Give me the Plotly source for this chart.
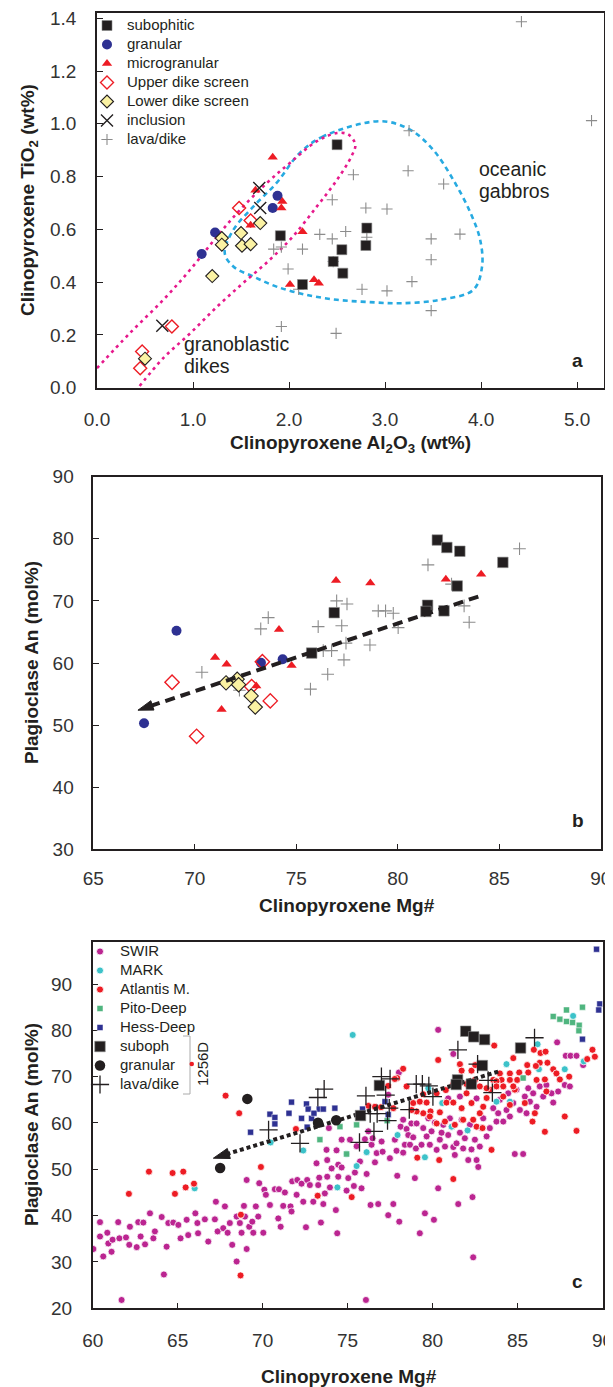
import plotly.graph_objects as go

# ================= Panel a : Cpx Al2O3 vs TiO2 =================
a_sub_x = [2.50, 1.91, 2.14, 2.55, 2.46, 2.56, 2.81, 2.80]
a_sub_y = [0.921, 0.576, 0.391, 0.523, 0.478, 0.434, 0.605, 0.539]
a_gran_x = [1.88, 1.83, 1.23, 1.09]
a_gran_y = [0.727, 0.681, 0.588, 0.507]
a_micro_x = [1.83, 1.65, 1.93, 1.92, 1.60, 2.14, 2.01, 2.26, 2.31]
a_micro_y = [0.873, 0.748, 0.706, 0.681, 0.616, 0.591, 0.391, 0.409, 0.396]
a_upper_x = [1.48, 1.60, 0.78, 0.47, 0.45]
a_upper_y = [0.681, 0.634, 0.232, 0.137, 0.074]
a_lower_x = [1.70, 1.30, 1.30, 1.50, 1.51, 1.60, 1.20, 0.50]
a_lower_y = [0.624, 0.567, 0.542, 0.586, 0.538, 0.544, 0.423, 0.110]
a_incl_x = [1.69, 1.70, 0.68]
a_incl_y = [0.757, 0.681, 0.235]
a_lava_x = [4.42, 5.15, 3.25, 2.67, 3.24, 3.61, 2.45, 2.80, 3.02, 3.78, 3.48, 3.48, 3.28, 2.76,
            3.02, 3.48, 2.32, 2.45, 2.59, 2.14, 1.92, 1.84, 1.99, 2.10, 2.46, 2.81, 1.92, 2.49]
a_lava_y = [1.387, 1.012, 0.974, 0.807, 0.822, 0.772, 0.712, 0.681, 0.677, 0.582, 0.564, 0.485, 0.402, 0.373,
            0.367, 0.292, 0.581, 0.564, 0.592, 0.525, 0.533, 0.525, 0.450, 0.373, 0.478, 0.570, 0.232, 0.206]
# field outlines
gabbro_x = [2.95, 2.36, 2.11, 1.87, 1.63, 1.42, 1.33, 1.42, 1.63, 1.87, 2.18, 2.50, 2.81, 3.16, 3.57,
            3.92, 4.01, 3.99, 3.89, 3.71, 3.50, 3.26, 2.95]
gabbro_y = [1.010, 0.953, 0.889, 0.776, 0.687, 0.598, 0.511, 0.459, 0.421, 0.383, 0.352, 0.333, 0.325,
            0.320, 0.333, 0.371, 0.459, 0.561, 0.662, 0.788, 0.902, 0.978, 1.010]
dike_x = [0.00, 0.34, 0.69, 0.97, 1.25, 1.49, 1.77, 2.01, 2.29, 2.50, 2.62, 2.69, 2.65, 2.50, 2.29,
          2.04, 1.80, 1.52, 1.25, 0.97, 0.69, 0.43]
dike_y = [0.074, 0.206, 0.333, 0.447, 0.573, 0.674, 0.776, 0.852, 0.934, 0.965, 0.959, 0.921, 0.877,
          0.788, 0.687, 0.573, 0.485, 0.396, 0.307, 0.206, 0.112, 0.000]
a_xticks = [0, 1, 2, 3, 4, 5]
a_yticks = [0.0, 0.2, 0.4, 0.6, 0.8, 1.0, 1.2, 1.4]

# ================= Panel b : Cpx Mg# vs Plag An =================
b_sub_x = [75.76, 76.87, 81.95, 82.42, 83.06, 85.18, 82.93, 81.47, 81.39, 82.28]
b_sub_y = [61.6, 68.1, 79.8, 78.6, 78.0, 76.2, 72.4, 69.3, 68.3, 68.4]
b_gran_x = [69.1, 67.5, 73.26, 74.33]
b_gran_y = [65.2, 50.3, 60.05, 60.6]
b_micro_x = [71.0, 71.57, 71.32, 74.15, 73.03, 74.77, 76.96, 78.65, 82.37, 84.11]
b_micro_y = [60.9, 59.8, 52.5, 65.4, 56.3, 59.6, 73.3, 72.9, 73.5, 74.3]
b_upper_x = [68.88, 70.09, 73.33, 72.8, 73.72]
b_upper_y = [56.9, 48.2, 60.2, 56.2, 53.9]
b_lower_x = [71.54, 72.09, 72.16, 72.78, 72.98]
b_lower_y = [56.8, 57.4, 56.5, 54.7, 52.9]
b_lava_x = [70.35, 72.2, 73.25, 73.62, 75.7, 76.08, 76.33, 76.74, 76.55, 76.99, 77.5, 77.24, 77.35,
            77.45, 78.63, 79.04, 79.4, 79.78, 80.02, 81.49, 82.65, 83.27, 83.52, 86.0]
b_lava_y = [58.5, 55.6, 65.5, 67.3, 55.8, 65.85, 62.0, 62.0, 58.2, 70.0, 69.5, 66.0, 60.5,
            63.2, 62.9, 68.4, 68.4, 68.0, 65.7, 75.8, 72.7, 69.2, 66.55, 78.4]
trend_b_x = [83.97, 67.2]
trend_b_y = [70.7, 52.4]
b_xticks = [65, 70, 75, 80, 85, 90]
b_yticks = [30, 40, 50, 60, 70, 80, 90]

# ================= Panel c : compilation =================
swir = [
    (60.04, 32.8), (60.43, 38.6), (60.43, 35.5), (60.62, 31.2), (60.86, 36.3), (60.92, 34.0), (61.11, 32.2),
    (61.17, 34.8), (61.5, 38.6), (61.57, 35.1), (61.7, 21.8), (61.96, 35.3), (62.15, 33.7), (62.19, 37.6),
    (62.59, 33.2), (62.68, 38.6), (62.82, 35.5), (62.98, 38.5), (63.08, 33.8), (63.37, 40.5), (63.57, 35.1),
    (63.66, 36.6), (64.06, 39.7), (64.19, 27.3), (64.35, 33.3), (64.45, 38.4), (64.74, 38.5), (65.04, 38.0),
    (65.17, 35.1), (65.53, 39.1), (65.62, 35.8), (66.04, 40.5), (66.16, 38.4), (66.2, 36.2), (66.6, 39.2),
    (66.8, 34.4), (67.19, 39.2), (67.25, 43.0), (67.35, 36.6), (67.68, 37.3), (67.78, 42.0), (67.94, 36.3),
    (68.07, 38.4), (68.21, 33.7), (68.47, 30.1), (68.47, 39.8), (68.66, 38.4), (68.76, 36.3), (68.9, 42.1),
    (68.96, 39.8), (69.06, 47.7), (69.06, 32.8), (69.21, 37.6), (69.39, 38.7), (69.45, 36.3), (69.6, 42.0),
    (69.74, 39.8), (69.8, 47.0), (70.04, 36.3), (70.1, 45.6), (70.19, 44.5), (70.43, 42.3), (70.72, 45.7),
    (70.92, 39.4), (70.96, 45.7), (71.06, 37.6), (71.21, 42.1), (71.31, 45.0), (71.64, 42.0), (71.7, 40.9),
    (71.74, 47.4), (72.0, 44.5), (72.04, 47.7), (72.29, 46.9), (72.39, 43.0), (72.55, 37.5), (72.62, 47.7),
    (72.78, 46.6), (72.98, 43.0), (73.17, 51.3), (73.27, 46.6), (73.33, 48.2), (73.43, 38.5), (73.57, 42.5),
    (73.66, 44.8), (73.76, 54.2), (73.8, 48.4), (73.8, 52.0), (73.9, 58.9), (73.96, 46.1), (74.06, 50.2),
    (74.31, 41.2), (74.35, 54.1), (74.39, 36.2), (74.45, 51.0), (74.45, 48.4),
    (74.65, 56.4), (74.65, 50.4), (74.94, 45.4), (75.04, 48.1), (75.14, 56.4), (75.37, 46.4), (75.43, 49.3),
    (75.53, 55.0), (75.73, 51.7), (75.82, 45.9), (76.02, 56.5), (76.08, 21.8), (76.12, 49.0), (76.22, 58.2),
    (76.35, 42.3), (76.41, 55.3), (76.47, 56.7), (76.61, 51.5), (76.71, 53.5), (76.8, 42.5), (77.0, 56.0),
    (77.06, 53.8), (77.39, 40.1), (77.49, 52.4), (77.69, 42.5), (77.78, 56.4), (77.88, 54.0), (77.92, 48.6),
    (78.04, 38.7), (78.12, 59.2), (78.27, 60.7), (78.27, 53.6), (78.37, 55.3), (78.47, 58.7), (78.57, 57.4),
    (78.67, 55.3), (78.75, 59.9), (78.86, 56.9), (78.96, 48.1), (79.02, 54.5), (79.06, 59.9), (79.25, 36.2),
    (79.35, 55.3), (79.45, 58.9), (79.55, 40.5), (79.65, 57.1), (79.75, 61.0), (79.84, 55.3), (79.94, 58.2),
    (80.08, 39.1), (80.14, 60.1), (80.24, 54.2), (80.33, 45.9), (80.43, 56.4), (80.53, 57.9), (80.63, 59.6),
    (80.73, 54.9), (80.92, 57.4), (81.02, 61.0), (81.12, 59.2), (81.22, 54.8), (81.31, 53.1), (81.41, 55.6),
    (81.51, 42.5), (81.61, 57.9), (81.71, 60.7), (81.8, 54.5), (81.9, 56.7), (82.1, 52.0), (82.2, 59.6),
    (82.29, 54.3), (82.35, 44.0), (82.39, 31.0), (82.49, 56.4), (82.59, 52.0), (82.69, 50.5), (82.78, 54.9),
    (82.88, 58.9), (82.98, 61.0), (83.18, 57.1), (83.37, 58.9), (83.57, 63.2), (83.76, 60.3), (83.86, 62.1),
    (83.96, 65.0), (84.16, 60.3), (84.35, 62.8), (84.45, 66.4), (84.55, 61.4), (84.75, 64.3), (84.84, 53.3),
    (84.94, 67.2), (85.14, 62.8), (85.33, 53.3), (85.43, 65.7), (85.53, 62.1), (85.63, 67.5), (85.73, 64.6),
    (85.92, 66.4), (86.12, 63.5), (86.31, 67.9), (86.51, 65.7), (86.7, 68.2), (87.0, 66.4), (87.1, 64.4),
    (87.39, 66.8), (87.78, 68.2), (88.08, 67.9),
    (78.02, 70.9), (80.33, 80.1), (81.22, 74.9), (87.33, 77.4), (87.84, 74.5), (88.12, 74.5), (88.47, 74.5),
    (88.86, 72.5), (77.39, 66.1), (80.92, 65.3), (81.61, 65.7), (82.59, 65.3),
]
c_swir_x = [p[0] for p in swir]
c_swir_y = [p[1] for p in swir]

c_mark_x = [70.47, 72.39, 66.0, 74.4, 74.94, 75.53, 76.12, 77.94, 79.55, 79.75, 80.57, 81.12, 82.06,
            83.76, 84.55, 87.78, 75.3, 88.27, 86.18, 88.9, 84.35, 86.26]
c_mark_y = [55.8, 54.06, 45.9, 46.1, 53.3, 50.7, 53.7, 57.4, 52.6, 67.5, 64.3, 59.2, 58.4,
            64.6, 64.6, 71.6, 79.0, 83.1, 77.0, 73.3, 72.7, 71.6]

atlantis = [
    (67.82, 65.9), (68.62, 62.1), (71.96, 58.7), (69.9, 50.5), (63.31, 49.5), (64.7, 49.2), (65.33, 49.5),
    (65.47, 46.1), (65.96, 46.9), (62.13, 44.7), (64.84, 44.7), (68.72, 40.2), (68.7, 27.1), (73.23, 44.3),
    (83.63, 76.7), (80.33, 73.6), (81.61, 72.7), (81.71, 71.3), (82.29, 71.3), (82.51, 72.5), (84.75, 74.0),
    (85.96, 75.8), (86.35, 75.1), (86.65, 75.4), (86.31, 73.0), (86.76, 73.0), (85.57, 72.5), (86.08, 72.3),
    (85.1, 70.9), (85.63, 70.9), (84.55, 70.7), (84.98, 69.3), (83.96, 70.7), (84.06, 69.3), (84.55, 69.3),
    (83.57, 69.3), (82.49, 69.3), (78.27, 71.7), (77.92, 69.7), (87.1, 71.6), (87.29, 70.7), (88.04, 70.0),
    (87.49, 69.4), (89.1, 73.8), (89.41, 75.8), (89.55, 74.3), (86.12, 69.3), (86.61, 69.4),
    (78.47, 67.9), (78.86, 64.3), (79.25, 64.6), (79.65, 64.4), (79.88, 62.5), (79.45, 62.1), (79.06, 62.5),
    (78.77, 62.8), (80.43, 62.3), (80.82, 64.4), (81.22, 64.4), (81.71, 63.2), (82.0, 66.4), (82.29, 64.3),
    (82.39, 60.7), (82.78, 62.1), (82.98, 63.5), (83.18, 65.4), (83.37, 67.2), (83.76, 69.0), (84.16, 65.7),
    (84.55, 63.9), (84.84, 67.2), (85.43, 64.3), (86.02, 62.1), (86.7, 66.8), (87.78, 61.4), (88.47, 58.3),
    (86.61, 58.1), (85.88, 60.3), (83.47, 54.2), (81.22, 47.9), (80.39, 52.0), (79.1, 52.5), (75.24, 44.0),
    (73.24, 44.3), (76.61, 63.5), (76.96, 63.4), (77.69, 63.2), (79.84, 61.4), (80.24, 59.9), (80.73, 60.3),
    (81.31, 59.6), (81.8, 60.7), (82.59, 59.2), (82.94, 58.9), (77.78, 69.5), (81.22, 68.4), (80.78, 67.1),
    (80.24, 66.4), (79.45, 66.2), (77.39, 68.0), (76.22, 63.7), (83.18, 67.5), (82.78, 67.9), (82.0, 68.4),
    (83.76, 67.9), (84.16, 67.9), (84.75, 67.9),
]
c_atl_x = [p[0] for p in atlantis]
c_atl_y = [p[1] for p in atlantis]

c_pito_x = [87.1, 87.49, 87.88, 87.88, 88.24, 88.63, 88.61, 88.82, 85.33, 73.37, 74.55, 75.53, 74.94, 77.33]
c_pito_y = [83.0, 82.4, 84.4, 81.9, 81.7, 81.1, 79.9, 85.0, 69.7, 56.4, 59.2, 59.6, 53.3, 60.5]

c_hess_x = [69.29, 70.43, 70.72, 70.72, 71.7, 71.55, 72.29, 72.58, 72.68, 72.88, 73.33, 73.57, 74.25,
            72.62, 73.02, 75.88, 77.2, 77.39, 89.65, 89.84, 89.78, 88.82]
c_hess_y = [58.0, 61.9, 61.2, 59.8, 64.5, 62.1, 61.0, 64.1, 63.0, 61.0, 63.0, 63.0, 63.2,
            59.1, 62.1, 63.0, 64.6, 61.8, 97.5, 85.7, 84.4, 78.1]
trend_c_x = [83.86, 67.1]
trend_c_y = [71.1, 52.4]
c_xticks = [60, 65, 70, 75, 80, 85, 90]
c_yticks = [20, 30, 40, 50, 60, 70, 80, 90]

# ================= figure =================
W, H = 613, 1387
OFF = 8  # page body margin the figure sits inside
FONT = "Arial, 'Liberation Sans', Helvetica, sans-serif"
INK = "#231f20"


def py(p):
    return 1 - (p - OFF) / H


def px(p):
    return (p - OFF) / W


fig = go.Figure()


def L(t, s=15):
    return f"<span style='font-size:{s}px'>{t}</span>"


# --- panel a traces
fig.add_trace(go.Scatter(x=gabbro_x, y=gabbro_y, mode="lines", line=dict(color="#27aae1", width=2.6, dash="5px,4px", shape="spline", smoothing=1.0),
                         showlegend=False, hoverinfo="skip", xaxis="x", yaxis="y"))
fig.add_trace(go.Scatter(x=dike_x, y=dike_y, mode="lines", line=dict(color="#e6198c", width=2.6, dash="3px,4px", shape="spline", smoothing=1.0),
                         showlegend=False, hoverinfo="skip", xaxis="x", yaxis="y"))
fig.add_trace(go.Scatter(x=a_lava_x, y=a_lava_y, mode="markers", name=L("lava/dike"), legendrank=7,
                         marker=dict(symbol="cross-thin", size=8, line=dict(color="#8c8c8c", width=1.1)),
                         xaxis="x", yaxis="y", legend="legend"))
fig.add_trace(go.Scatter(x=a_sub_x, y=a_sub_y, mode="markers", name=L("subophitic"), legendrank=1,
                         marker=dict(symbol="square", size=10, color=INK, line=dict(color="#888", width=0.6)),
                         xaxis="x", yaxis="y", legend="legend"))
fig.add_trace(go.Scatter(x=a_gran_x, y=a_gran_y, mode="markers", name=L("granular"), legendrank=2,
                         marker=dict(symbol="circle", size=10, color="#2e3192", line=dict(width=0)),
                         xaxis="x", yaxis="y", legend="legend"))
fig.add_trace(go.Scatter(x=a_micro_x, y=a_micro_y, mode="markers", name=L("microgranular"), legendrank=3,
                         marker=dict(symbol="triangle-up", size=9, color="#ed1c24", line=dict(width=0)),
                         xaxis="x", yaxis="y", legend="legend"))
fig.add_trace(go.Scatter(x=a_upper_x, y=a_upper_y, mode="markers", name=L("Upper dike screen"), legendrank=4,
                         marker=dict(symbol="diamond-open", size=10, color="#ed1c24", line=dict(width=1.4)),
                         xaxis="x", yaxis="y", legend="legend"))
fig.add_trace(go.Scatter(x=a_lower_x, y=a_lower_y, mode="markers", name=L("Lower dike screen"), legendrank=5,
                         marker=dict(symbol="diamond", size=10, color="#fbf2a3", line=dict(color=INK, width=1.1)),
                         xaxis="x", yaxis="y", legend="legend"))
fig.add_trace(go.Scatter(x=a_incl_x, y=a_incl_y, mode="markers", name=L("inclusion"), legendrank=6,
                         marker=dict(symbol="x-thin", size=12, line=dict(color=INK, width=1.4)),
                         xaxis="x", yaxis="y", legend="legend"))

# --- panel b traces
fig.add_trace(go.Scatter(x=b_lava_x, y=b_lava_y, mode="markers", showlegend=False,
                         marker=dict(symbol="cross-thin", size=9, line=dict(color="#8c8c8c", width=1.1)), xaxis="x2", yaxis="y2"))
fig.add_trace(go.Scatter(x=b_sub_x, y=b_sub_y, mode="markers", showlegend=False,
                         marker=dict(symbol="square", size=10.5, color=INK, line=dict(color="#888", width=0.6)), xaxis="x2", yaxis="y2"))
fig.add_trace(go.Scatter(x=b_gran_x, y=b_gran_y, mode="markers", showlegend=False,
                         marker=dict(symbol="circle", size=10, color="#2e3192"), xaxis="x2", yaxis="y2"))
fig.add_trace(go.Scatter(x=b_micro_x, y=b_micro_y, mode="markers", showlegend=False,
                         marker=dict(symbol="triangle-up", size=9, color="#ed1c24"), xaxis="x2", yaxis="y2"))
fig.add_trace(go.Scatter(x=b_upper_x, y=b_upper_y, mode="markers", showlegend=False,
                         marker=dict(symbol="diamond-open", size=11, color="#ed1c24", line=dict(width=1.4)), xaxis="x2", yaxis="y2"))
fig.add_trace(go.Scatter(x=b_lower_x, y=b_lower_y, mode="markers", showlegend=False,
                         marker=dict(symbol="diamond", size=11, color="#fbf2a3", line=dict(color=INK, width=1.1)), xaxis="x2", yaxis="y2"))
fig.add_trace(go.Scatter(x=trend_b_x, y=trend_b_y, mode="lines+markers", showlegend=False, hoverinfo="skip",
                         line=dict(color=INK, width=4, dash="10px,6px"),
                         marker=dict(symbol="arrow", size=[0, 16], angleref="previous", color=INK, opacity=1,
                                     line=dict(width=1, color=INK)),
                         xaxis="x2", yaxis="y2"))

# --- panel c traces
fig.add_trace(go.Scatter(x=c_swir_x, y=c_swir_y, mode="markers", name=L("SWIR"),
                         marker=dict(symbol="circle", size=7, color="#bb2591", line=dict(color="white", width=0.8)),
                         xaxis="x3", yaxis="y3", legend="legend3"))
fig.add_trace(go.Scatter(x=c_mark_x, y=c_mark_y, mode="markers", name=L("MARK"),
                         marker=dict(symbol="circle", size=7, color="#3cc2c9", line=dict(color="white", width=0.8)),
                         xaxis="x3", yaxis="y3", legend="legend3"))
fig.add_trace(go.Scatter(x=c_atl_x, y=c_atl_y, mode="markers", name=L("Atlantis M."),
                         marker=dict(symbol="circle", size=7, color="#ed1c24", line=dict(color="white", width=0.8)),
                         xaxis="x3", yaxis="y3", legend="legend3"))
fig.add_trace(go.Scatter(x=c_pito_x, y=c_pito_y, mode="markers", name=L("Pito-Deep"),
                         marker=dict(symbol="square", size=6, color="#4fb57f", line=dict(color="white", width=0.5)),
                         xaxis="x3", yaxis="y3", legend="legend3"))
fig.add_trace(go.Scatter(x=c_hess_x, y=c_hess_y, mode="markers", name=L("Hess-Deep"),
                         marker=dict(symbol="square", size=6, color="#2e3192", line=dict(color="white", width=0.5)),
                         xaxis="x3", yaxis="y3", legend="legend3"))
fig.add_trace(go.Scatter(x=trend_c_x, y=trend_c_y, mode="lines+markers", showlegend=False, hoverinfo="skip",
                         line=dict(color=INK, width=4, dash="4px,3px"),
                         marker=dict(symbol="arrow", size=[0, 17], angleref="previous", color=INK, opacity=1,
                                     line=dict(width=1, color=INK)),
                         xaxis="x3", yaxis="y3"))
fig.add_trace(go.Scatter(x=b_sub_x, y=b_sub_y, mode="markers", name=L("suboph"),
                         marker=dict(symbol="square", size=10.5, color=INK, line=dict(color="#888", width=0.6)),
                         xaxis="x3", yaxis="y3", legend="legend3"))
fig.add_trace(go.Scatter(x=b_gran_x, y=b_gran_y, mode="markers", name=L("granular"),
                         marker=dict(symbol="circle", size=10.5, color=INK),
                         xaxis="x3", yaxis="y3", legend="legend3"))
fig.add_trace(go.Scatter(x=b_lava_x, y=b_lava_y, mode="markers", name=L("lava/dike"),
                         marker=dict(symbol="cross-thin", size=13, line=dict(color=INK, width=1.3)),
                         xaxis="x3", yaxis="y3", legend="legend3"))

axis_common = dict(showline=True, linecolor=INK, linewidth=1.5, mirror=True, ticks="inside", ticklen=6,
                   tickwidth=1.3, tickcolor=INK, showgrid=False, zeroline=False, automargin=False,
                   ticklabeloverflow="allow",
                   tickfont=dict(family=FONT, size=19, color="#333"))

fig.update_layout(
    width=W, height=H, margin=dict(l=0, r=0, t=0, b=0, pad=0, autoexpand=False),
    paper_bgcolor="white", plot_bgcolor="white", font=dict(family=FONT, color=INK),
    xaxis=dict(domain=[px(97), px(604)], range=[0, 5.28], tickvals=a_xticks, tickformat=".1f",
               anchor="y", ticklabelstandoff=14, **axis_common),
    yaxis=dict(domain=[py(387.7), py(13)], range=[0, 1.42], tickvals=a_yticks, tickformat=".1f",
               anchor="x", ticklabelstandoff=15, **axis_common),
    xaxis2=dict(domain=[px(93.3), px(600.7)], range=[65, 90], tickvals=b_xticks,
                anchor="y2", ticklabelstandoff=11, **axis_common),
    yaxis2=dict(domain=[py(849.3), py(476.7)], range=[30, 90], tickvals=b_yticks,
                anchor="x2", ticklabelstandoff=14, **axis_common),
    xaxis3=dict(domain=[px(92.7), px(602.5)], range=[60, 90], tickvals=c_xticks,
                anchor="y3", ticklabelstandoff=14, **axis_common),
    yaxis3=dict(domain=[py(1308.3), py(942.3)], range=[20, 99], tickvals=c_yticks,
                anchor="x3", ticklabelstandoff=15, **axis_common),
    legend=dict(x=px(87), y=py(11), xanchor="left", yanchor="top", bgcolor="rgba(0,0,0,0)",
                font=dict(family=FONT, size=12, color=INK), itemsizing="trace", traceorder="normal", tracegroupgap=0),
    legend3=dict(x=px(80), y=py(937), xanchor="left", yanchor="top", bgcolor="rgba(0,0,0,0)",
                 font=dict(family=FONT, size=12, color=INK), itemsizing="trace", traceorder="normal", tracegroupgap=0),
)

ann = []
title_font = dict(family=FONT, size=19, color=INK)
# axis titles
ann.append(dict(text="<b>Clinopyroxene Al<sub>2</sub>O<sub>3</sub> (wt%)</b>", x=px(350), y=py(444), xref="paper", yref="paper",
                showarrow=False, font=title_font, xanchor="center", yanchor="middle"))
ann.append(dict(text="<b>Clinopyroxene TiO<sub>2</sub> (wt%)</b>", x=px(29), y=py(200), xref="paper", yref="paper",
                showarrow=False, font=title_font, textangle=-90, xanchor="center", yanchor="middle"))
ann.append(dict(text="<b>Clinopyroxene Mg#</b>", x=px(347), y=py(905), xref="paper", yref="paper",
                showarrow=False, font=title_font, xanchor="center", yanchor="middle"))
ann.append(dict(text="<b>Plagioclase An (mol%)</b>", x=px(31), y=py(663), xref="paper", yref="paper",
                showarrow=False, font=title_font, textangle=-90, xanchor="center", yanchor="middle"))
ann.append(dict(text="<b>Clinopyroxene Mg#</b>", x=px(349), y=py(1376), xref="paper", yref="paper",
                showarrow=False, font=title_font, xanchor="center", yanchor="middle"))
ann.append(dict(text="<b>Plagioclase An (mol%)</b>", x=px(31), y=py(1125), xref="paper", yref="paper",
                showarrow=False, font=title_font, textangle=-90, xanchor="center", yanchor="middle"))
# panel letters
for t, xx, yy in [("a", 577, 360), ("b", 578, 820), ("c", 577, 1281)]:
    ann.append(dict(text=f"<b>{t}</b>", x=px(xx), y=py(yy), xref="paper", yref="paper", showarrow=False,
                    font=dict(family=FONT, size=19, color=INK), xanchor="center", yanchor="middle"))
# field labels
for t, xx, yy in [("oceanic", 477, 169), ("gabbros", 477, 191), ("granoblastic", 182, 344), ("dikes", 182, 366)]:
    ann.append(dict(text=t, x=px(xx), y=py(yy), xref="paper", yref="paper", showarrow=False,
                    font=dict(family=FONT, size=19.5, color=INK), xanchor="left", yanchor="middle"))
# 1256D label
ann.append(dict(text="1256D", x=px(202), y=py(1064), xref="paper", yref="paper", showarrow=False, textangle=-90,
                font=dict(family=FONT, size=15, color=INK), xanchor="center", yanchor="middle"))

shapes = [
    dict(type="path", xref="paper", yref="paper", line=dict(color="#aaaaaa", width=1),
         path=f"M {px(183)} {py(1036)} L {px(190)} {py(1036)} L {px(190)} {py(1094)} L {px(183)} {py(1094)}"),
    dict(type="circle", xref="paper", yref="paper", fillcolor="#ed1c24", line=dict(width=0),
         x0=px(189.5), x1=px(194), y0=py(1066.3), y1=py(1061.8)),
]
fig.update_layout(annotations=ann, shapes=shapes)
fig.write_html("out.html")
